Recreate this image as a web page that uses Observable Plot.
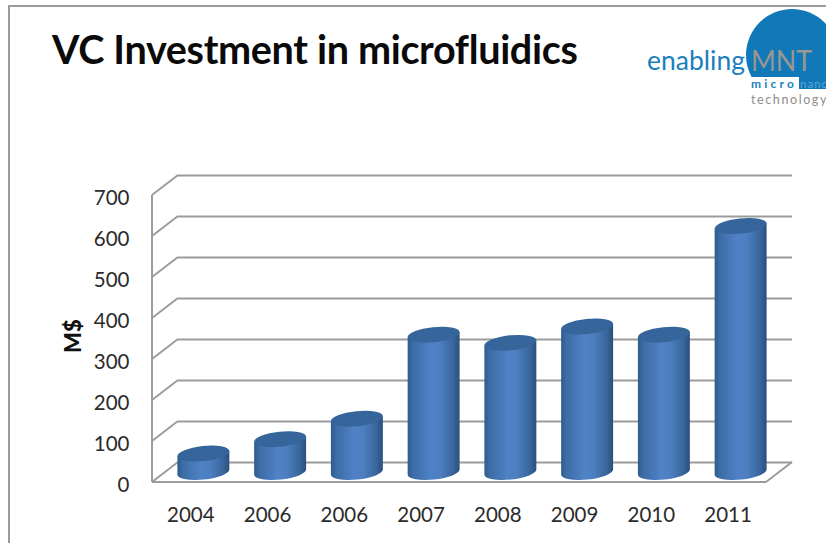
<!DOCTYPE html>
<html>
<head>
<meta charset="utf-8">
<title>VC Investment in microfluidics</title>
<script src="https://cdn.jsdelivr.net/npm/d3@7"></script>
<script src="https://cdn.jsdelivr.net/npm/@observablehq/plot@0.6"></script>
<style>
  html, body { margin: 0; padding: 0; background: #fff; width: 826px; height: 543px; overflow: hidden; }
  #slide { position: relative; width: 826px; height: 543px; overflow: hidden; font-family: Lato, sans-serif; }
  #border { position: absolute; left: 8px; top: 5px; width: 830px; height: 560px; border: 2px solid #9b9b9b; box-sizing: border-box; }
  #headline { position: absolute; left: 52px; top: 26px; margin: 0; font: 700 39.6px/46px Lato, sans-serif; color: #0a0a0a; white-space: nowrap; letter-spacing: -0.35px; }
  #logo { position: absolute; left: 620px; top: 0; }
  #chart { position: absolute; left: 0; top: 0; }
</style>
</head>
<body>
<div id="slide">
  <div id="border"></div>
  <div id="chart"></div>
  <h1 id="headline">VC Investment in microfluidics</h1>
  <svg id="logo" width="206" height="130" viewBox="620 0 206 130">
    <defs><clipPath id="dome"><rect x="740" y="0" width="90" height="77"/></clipPath></defs>
    <circle cx="792" cy="55" r="46" fill="#1279b8" clip-path="url(#dome)"/>
    <rect x="799" y="77" width="30" height="12" fill="#1279b8"/>
    <text x="647" y="70" font-size="26.5" fill="#1a7fbd" font-family="Lato">enabling</text>
    <text x="751" y="71" font-size="29" fill="#9c9690" font-family="Lato" textLength="61" lengthAdjust="spacingAndGlyphs">MNT</text>
    <text x="751" y="88" font-size="12" font-weight="700" fill="#1a7fbd" font-family="Lato" textLength="43">micro</text>
    <text x="800" y="87.5" font-size="11.5" fill="#5aa6d6" letter-spacing="1" font-family="Lato">nano</text>
    <text x="751" y="104" font-size="12.5" fill="#8d8d8d" letter-spacing="1.6" font-family="Lato">technology</text>
  </svg>
</div>
<script>
// Venture capital invested per year, in millions of dollars.
const years = ["2004", "2006", "2006", "2007", "2008", "2009", "2010", "2011"];
const investment = [45, 80, 130, 335, 315, 355, 335, 600];
const valueTicks = [0, 100, 200, 300, 400, 500, 600, 700];
const slots = years.map((_, i) => i);
const rows = slots.map(i => ({slot: i, value: investment[i]}));

// Pixel shift between the front plane of the 3D box and its back wall.
const depthX = 26, depthY = -20;
const gridColor = "#9c9c9c";

// Side walls and floor edges of the box, placed with the chart's own scales.
function boxEdges(index, {x, y}) {
  const [x0, x1] = x.range();
  const g = d3.create("svg:g").attr("fill", "none").attr("stroke", gridColor).attr("stroke-width", 2);
  const segment = (ax, ay, bx, by) => g.append("line").attr("x1", ax).attr("y1", ay).attr("x2", bx).attr("y2", by);
  segment(x0, y(0), x0, y(700));
  segment(x0, y(0), x1, y(0));
  segment(x1, y(0), x1 + depthX, y(0) + depthY);
  for (const v of valueTicks) segment(x0, y(v), x0 + depthX, y(v) + depthY);
  return g.node();
}

// Turns each bar rectangle into a slightly tilted cylinder standing mid-depth in the box.
function cylinder(index, scales, values, dimensions, context, next) {
  const node = next(index, scales, values, dimensions, context);
  const root = d3.select(node);
  const defs = root.append("defs");
  const shade = defs.append("linearGradient").attr("id", "cylinderShade");
  [[0, "#2f5a8c"], [0.1, "#3d6ca6"], [0.45, "#4f82c6"], [0.62, "#4d7fc0"], [0.88, "#38659c"], [1, "#2a4f7c"]]
    .forEach(([o, c]) => shade.append("stop").attr("offset", o).attr("stop-color", c));
  const tilt = -6, ry = 7.5;
  root.selectAll("rect").each(function () {
    const r = d3.select(this);
    const w = +r.attr("width"), h = +r.attr("height");
    const left = +r.attr("x") + depthX / 2, top = +r.attr("y") + depthY / 2;
    const rx = w / 2;
    const lift = rx * Math.sin(-tilt * Math.PI / 180);
    const parent = d3.select(this.parentNode);
    const arc = `A${rx},${ry} ${tilt} 0 0`;
    parent.append("path")
      .attr("fill", "url(#cylinderShade)")
      .attr("d", `M${left},${top + lift}L${left},${top + h + lift}${arc} ${left + w},${top + h - lift}L${left + w},${top - lift}Z`);
    parent.append("path")
      .attr("fill", "#36659b")
      .attr("d", `M${left},${top + lift}${arc} ${left + w},${top - lift}A${rx},${ry} ${tilt} 0 0 ${left},${top + lift}Z`);
    r.remove();
  });
  return node;
}

const chart = Plot.plot({
  width: 826,
  height: 543,
  marginLeft: 152,
  marginRight: 60,
  marginTop: 195,
  marginBottom: 61,
  style: {background: "transparent", fontFamily: "Lato, sans-serif"},
  x: {type: "band", domain: slots, padding: 0, round: false, label: null},
  y: {domain: [0, 700], label: null},
  marks: [
    Plot.ruleY(valueTicks, {y: d => d, dx: depthX, dy: depthY, stroke: gridColor, strokeWidth: 2}),
    boxEdges,
    Plot.axisX(slots, {
      x: d => d, tickSize: 0, tickPadding: 25, fontSize: 20.5, fill: "#2b2b2b",
      tickFormat: i => years[i], label: null
    }),
    Plot.axisY(valueTicks, {
      y: d => d, dy: 3, tickSize: 0, tickPadding: 23, fontSize: 20.5, fill: "#2b2b2b", label: null
    }),
    Plot.text(["M$"], {
      text: d => d, frameAnchor: "left", dx: -79, dy: 14, rotate: -90,
      fontSize: 22, fontWeight: 900, fill: "#111"
    }),
    Plot.barY(rows, {
      x: "slot", y: "value", insetLeft: 12.4, insetRight: 12.4, fill: "#4f82c6", render: cylinder
    })
  ]
});
document.getElementById("chart").append(chart);
</script>
</body>
</html>
